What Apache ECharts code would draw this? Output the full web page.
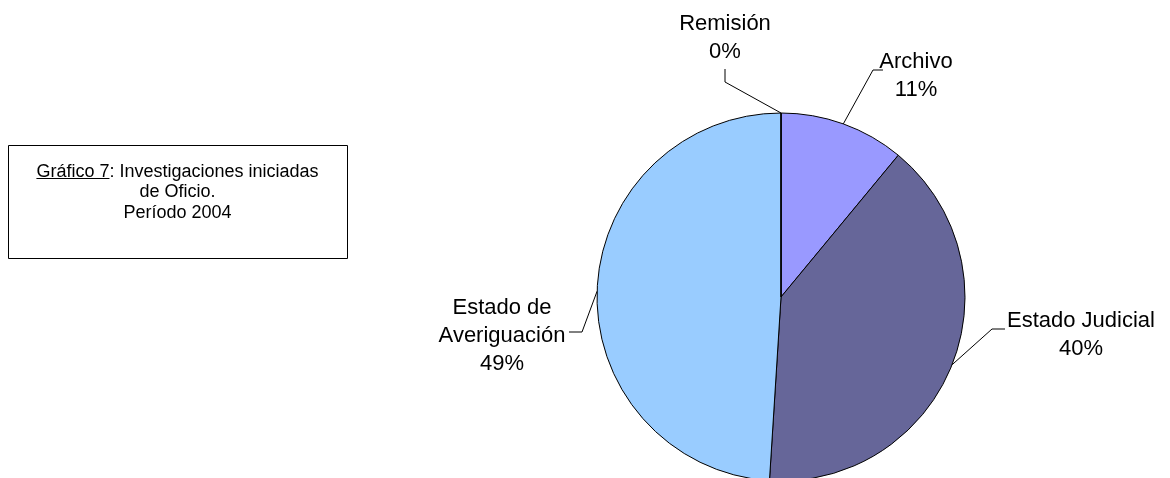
<!DOCTYPE html>
<html>
<head>
<meta charset="utf-8">
<script src="https://cdn.jsdelivr.net/npm/echarts@6/dist/echarts.min.js"></script>
<style>
  html, body { margin: 0; padding: 0; background: #ffffff; }
  #chart { width: 1170px; height: 478px; }
</style>
</head>
<body>
<div id="chart"></div>
<script>
// Investigaciones iniciadas de Oficio, 2004 (porcentajes por estado)
const categories = ['Archivo', 'Estado Judicial', 'Estado de Averiguación', 'Remisión'];
const values = [11, 40, 49, 0];
const colors = ['#9999FF', '#666699', '#99CCFF', '#FFFFCC'];
const labelNames = ['Archivo', 'Estado Judicial', 'Estado de\nAveriguación', 'Remisión'];

const titleLines = ['Gráfico 7: Investigaciones iniciadas', 'de Oficio.', 'Período 2004'];
const underlinedPart = 'Gráfico 7';

const FONT = '"Liberation Sans", Arial, sans-serif';

// Label placement: centre of each label block, elbow and end of its leader line
const labelPlace = {
  'Archivo':                { x: 916,  y: 76,  elbow: [873, 70],  end: [883, 70] },
  'Estado Judicial':        { x: 1081, y: 335, elbow: [992, 329], end: [1005, 329] },
  'Estado de Averiguación': { x: 502,  y: 336, elbow: [582, 332], end: [569, 332] },
  'Remisión':               { x: 725,  y: 38,  elbow: [725, 82],  end: [725, 69] }
};

const chart = echarts.init(document.getElementById('chart'), null, { renderer: 'canvas' });

// text box on the left
const boxX = 8, boxY = 145, boxW = 339, boxH = 113;
const boxCx = boxX + boxW / 2;
const titleFontSize = 18;
const ctx = document.createElement('canvas').getContext('2d');
ctx.font = titleFontSize + 'px ' + FONT;
const line1W = ctx.measureText(titleLines[0]).width;
const partW = ctx.measureText(underlinedPart).width;
const line1Start = boxCx - line1W / 2;
const firstBaseline = 177;
const titleLineGap = 20.5;
const baselineFromTop = 14;

const graphics = [
  {
    type: 'rect',
    shape: { x: boxX + 0.5, y: boxY + 0.5, width: boxW, height: boxH },
    style: { fill: '#ffffff', stroke: '#000000', lineWidth: 1 }
  }
];
titleLines.forEach(function (t, i) {
  graphics.push({
    type: 'text',
    x: boxCx,
    y: firstBaseline - baselineFromTop + i * titleLineGap,
    style: {
      text: t,
      fill: '#000000',
      font: titleFontSize + 'px ' + FONT,
      textAlign: 'center',
      textVerticalAlign: 'top'
    }
  });
});
graphics.push({
  type: 'line',
  shape: { x1: line1Start, y1: firstBaseline + 1.5, x2: line1Start + partW, y2: firstBaseline + 1.5 },
  style: { stroke: '#000000', lineWidth: 1 }
});

const option = {
  backgroundColor: '#ffffff',
  animation: false,
  graphic: graphics,
  series: [
    {
      type: 'pie',
      center: [781, 297],
      radius: 184,
      startAngle: 90,
      clockwise: true,
      avoidLabelOverlap: false,
      data: categories.map(function (c, i) {
        return { name: c, value: values[i], itemStyle: { color: colors[i] } };
      }),
      itemStyle: { borderColor: '#000000', borderWidth: 1 },
      label: {
        show: true,
        position: 'outside',
        color: '#000000',
        fontFamily: FONT,
        fontSize: 22,
        lineHeight: 28,
        align: 'center',
        formatter: function (p) {
          return labelNames[p.dataIndex] + '\n' + Math.round(p.percent) + '%';
        }
      },
      labelLine: {
        show: true,
        lineStyle: { color: '#000000', width: 1 }
      },
      labelLayout: function (params) {
        const place = labelPlace[categories[params.dataIndex]];
        const start = params.labelLinePoints ? params.labelLinePoints[0] : place.elbow;
        return {
          x: place.x,
          y: place.y,
          align: 'center',
          verticalAlign: 'middle',
          labelLinePoints: [start, place.elbow, place.end]
        };
      },
      emphasis: { disabled: true }
    }
  ]
};

chart.setOption(option);
</script>
</body>
</html>
